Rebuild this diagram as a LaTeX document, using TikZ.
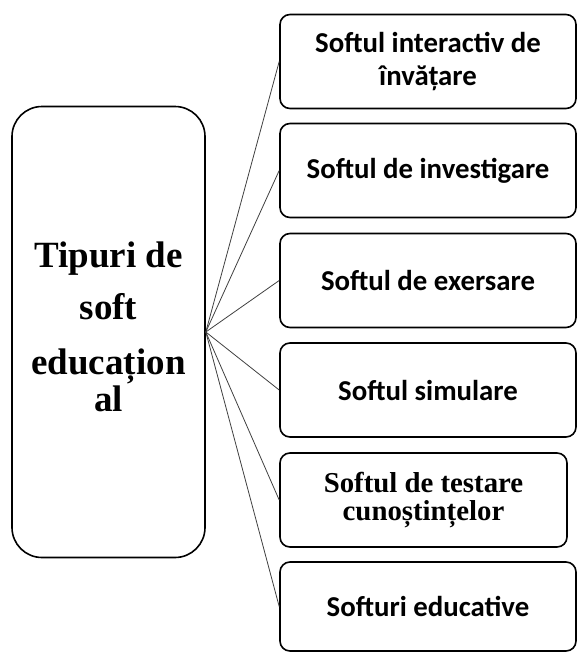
\documentclass[tikz,border=0pt]{standalone}
\usepackage{fontspec}
\setmainfont{Liberation Serif}
\newfontfamily\calibrifont{Carlito}

\tikzset{
  mainbox/.style={draw, line width=1.6, rounded corners=30, minimum width=193, minimum height=451, align=center, font=\bfseries\fontsize{37}{37}\selectfont},
  softbox/.style={draw, line width=1.6, rounded corners=10, minimum width=296, minimum height=94, align=center, font=\calibrifont\bfseries\fontsize{28.8}{33}\selectfont},
  serifbox/.style={softbox, minimum width=287, font=\bfseries\fontsize{28.8}{28.5}\selectfont},
  fanline/.style={line width=0.8, draw=black!75},
}

\begin{document}
\begin{tikzpicture}[x=1pt,y=1pt,yscale=-1,xscale=1]
\useasboundingbox (0,0) rectangle (577,653);

%Shape: Rounded Rect [id:tipuri]
\node [mainbox] (tipuri) at (108.5,332) {\raisebox{-5.5pt}{\begin{tabular}{@{}c@{}}Tipuri de\\[15pt]soft\\[18pt]educațion\\al\end{tabular}}};

%Shape: Rounded Rect [id:interactiv]
\node [softbox] (interactiv) at (428,61.5) {Softul interactiv de\\învățare};
%Shape: Rounded Rect [id:investigare]
\node [softbox] (investigare) at (428,170.5) {Softul de investigare};
%Shape: Rounded Rect [id:exersare]
\node [softbox] (exersare) at (428,280.5) {Softul de exersare};
%Shape: Rounded Rect [id:simulare]
\node [softbox] (simulare) at (428,390) {Softul simulare};
%Shape: Rounded Rect [id:testare]
\node [serifbox] (testare) at (423.5,500) {Softul de testare\\cunoștințelor};
%Shape: Rounded Rect [id:educative]
\node [softbox, minimum height=89] (educative) at (428,606.5) {Softuri educative};

%Straight Lines
\draw [fanline] (tipuri.east) -- (interactiv.west);
\draw [fanline] (tipuri.east) -- (investigare.west);
\draw [fanline] (tipuri.east) -- (exersare.west);
\draw [fanline] (tipuri.east) -- (simulare.west);
\draw [fanline] (tipuri.east) -- (testare.west);
\draw [fanline] (tipuri.east) -- (educative.west);
\end{tikzpicture}
\end{document}
